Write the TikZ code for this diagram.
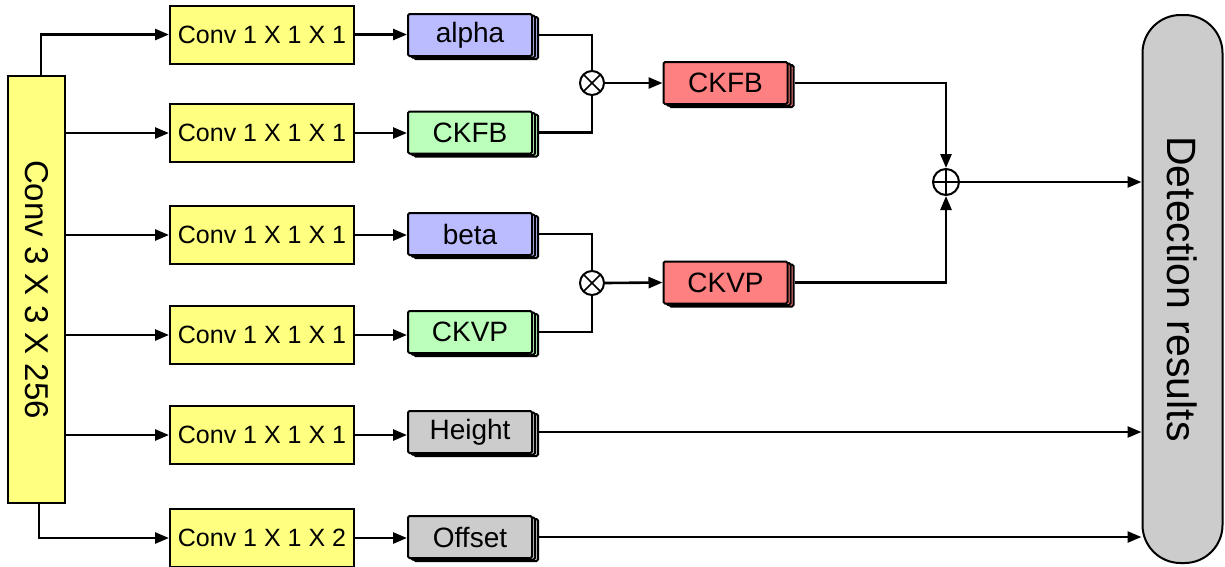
\documentclass[tikz,border=0pt]{standalone}
\usepackage{fontspec}
\setmainfont{Liberation Sans}
\usetikzlibrary{arrows.meta,shadows}
\definecolor{cyel}{RGB}{255,255,128}
\definecolor{cblue}{RGB}{187,187,255}
\definecolor{cgreen}{RGB}{187,255,187}
\definecolor{cred}{RGB}{255,128,128}
\definecolor{cgray}{RGB}{204,204,204}
\tikzset{
  convbox/.style={draw, line width=2pt, fill=cyel, minimum width=184pt, minimum height=58pt, inner sep=0pt, font=\fontsize{25}{30}\selectfont},
  stackbox/.style={draw, line width=2pt, fill=#1, minimum width=124pt, minimum height=42pt, inner sep=0pt, rounded corners=1.5pt,
    double copy shadow={shadow xshift=3pt, shadow yshift=-1.5pt}, font=\fontsize{28}{32}\selectfont},
  opcirc/.style={draw, line width=2pt, circle, minimum size=#1, inner sep=0pt, fill=white},
  arr/.style={line width=2.6pt, -{Triangle[length=14pt,width=11pt]}},
  ln/.style={line width=2.6pt}
}
\begin{document}
\begin{tikzpicture}[x=1pt,y=-1pt]
\useasboundingbox (0,0) rectangle (1225,566);
% big conv
\node[draw, line width=2pt, fill=cyel, minimum width=57pt, minimum height=427pt, inner sep=0pt] (big) at (36.5,289.5)
  {\rotatebox{-90}{\fontsize{33}{36}\selectfont Conv 3 X 3 X 256}};
% conv 1x1
\node[convbox] (c1) at (262,34.5) {Conv 1 X 1 X 1};
\node[convbox] (c2) at (262,133) {Conv 1 X 1 X 1};
\node[convbox] (c3) at (262,235) {Conv 1 X 1 X 1};
\node[convbox] (c4) at (262,335) {Conv 1 X 1 X 1};
\node[convbox] (c5) at (262,435) {Conv 1 X 1 X 1};
\node[convbox] (c6) at (262,538) {Conv 1 X 1 X 2};
% small stacked boxes
\node[stackbox=cblue] (alpha) at (470,35) {alpha};
\node[stackbox=cgreen] (ckfbg) at (470,132.5) {CKFB};
\node[stackbox=cblue] (beta) at (470,234) {beta};
\node[stackbox=cgreen] (ckvpg) at (470,332) {CKVP};
\node[stackbox=cgray] (height) at (470,432) {Height};
\node[stackbox=cgray] (offset) at (470,537) {Offset};
% products
\node[opcirc=24pt] (ot1) at (592,83) {};
\node[opcirc=24pt] (ot2) at (592,283) {};
\draw[line width=1.6pt] ([shift={(-8,-8)}]ot1.center) -- ([shift={(8,8)}]ot1.center) ([shift={(-8,8)}]ot1.center) -- ([shift={(8,-8)}]ot1.center);
\draw[line width=1.6pt] ([shift={(-8,-8)}]ot2.center) -- ([shift={(8,8)}]ot2.center) ([shift={(-8,8)}]ot2.center) -- ([shift={(8,-8)}]ot2.center);
% red boxes
\node[stackbox=cred] (ckfbr) at (725.5,83) {CKFB};
\node[stackbox=cred] (ckvpr) at (725.5,282.5) {CKVP};
% sum
\node[opcirc=26pt] (op) at (946,182) {};
\draw[line width=1.6pt] ([xshift=-13pt]op.center) -- ([xshift=13pt]op.center) ([yshift=-13pt]op.center) -- ([yshift=13pt]op.center);
% detection
\node[draw, line width=2pt, fill=cgray, minimum width=80pt, minimum height=548pt, inner sep=0pt, rounded corners=38pt] (det) at (1182.5,289)
  {\rotatebox{-90}{\fontsize{41}{44}\selectfont Detection results}};
% connectors from big box
\draw[arr] ([xshift=4.5pt]big.north) |- (c1.west);
\draw[arr] (big.east |- c2.west) -- (c2.west);
\draw[arr] (big.east |- c3.west) -- (c3.west);
\draw[arr] (big.east |- c4.west) -- (c4.west);
\draw[arr] (big.east |- c5.west) -- (c5.west);
\draw[arr] ([xshift=2.5pt]big.south) |- (c6.west);
% conv to small
\draw[arr] (c1.east) -- (c1.east -| alpha.west);
\draw[arr] (c2.east) -- (c2.east -| ckfbg.west);
\draw[arr] (c3.east) -- (c3.east -| beta.west);
\draw[arr] (c4.east) -- (c4.east -| ckvpg.west);
\draw[arr] (c5.east) -- (c5.east -| height.west);
\draw[arr] (c6.east) -- (c6.east -| offset.west);
% into products
\draw[ln] ([xshift=6pt]alpha.east) -| (ot1.north);
\draw[ln] ([xshift=6pt]ckfbg.east) -| (ot1.south);
\draw[ln] ([xshift=6pt]beta.east) -| (ot2.north);
\draw[ln] ([xshift=6pt]ckvpg.east) -| (ot2.south);
\draw[arr] (ot1.east) -- (ckfbr.west);
\draw[arr] (ot2.east) -- (ckvpr.west);
% into sum
\draw[arr] ([xshift=6pt]ckfbr.east) -| (op.north);
\draw[arr] ([xshift=6pt]ckvpr.east) -| (op.south);
% to detection
\draw[arr] (op.east) -- (op.east -| det.west);
\draw[arr] ([xshift=6pt]height.east) -- (height.east -| det.west);
\draw[arr] ([xshift=6pt]offset.east) -- (offset.east -| det.west);
\end{tikzpicture}
\end{document}
